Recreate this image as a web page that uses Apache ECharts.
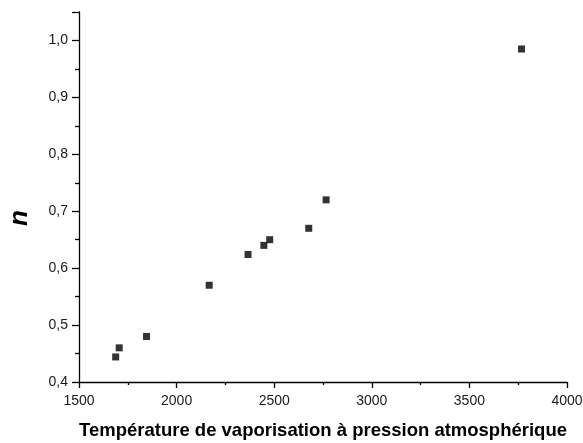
<!DOCTYPE html>
<html>
<head>
<meta charset="utf-8">
<script src="https://cdn.jsdelivr.net/npm/echarts@6/dist/echarts.min.js"></script>
<style>html,body{margin:0;padding:0;background:#fff}#c{width:583px;height:443px}</style>
</head>
<body>
<div id="c"></div>
<script>
const temperatures = [1688, 1706, 1846, 2167, 2366, 2447, 2477, 2677, 2766, 3767];
const nValues = [0.444, 0.460, 0.480, 0.570, 0.624, 0.640, 0.650, 0.670, 0.720, 0.985];
const xTitle = 'Température de vaporisation à pression atmosphérique';
const yTitle = 'n';

const points = temperatures.map((t, i) => [t, nValues[i]]);
const font = "'Liberation Sans', Arial, sans-serif";
const chart = echarts.init(document.getElementById('c'), null, {renderer: 'canvas'});
chart.setOption({
  animation: false,
  backgroundColor: '#fff',
  grid: {left: 79, right: 16, top: 12, bottom: 61, containLabel: false, outerBoundsMode: 'none'},
  xAxis: {
    type: 'value', min: 1500, max: 4000, interval: 500,
    name: xTitle, nameLocation: 'middle', nameGap: 39,
    nameTextStyle: {fontFamily: font, fontWeight: 'bold', fontSize: 18.5, color: '#000'},
    axisLine: {show: true, onZero: false, lineStyle: {color: '#000', width: 1.3}},
    axisTick: {show: true, inside: false, length: 6, lineStyle: {color: '#000', width: 1.3}},
    minorTick: {show: true, splitNumber: 2, length: 3, lineStyle: {color: '#000', width: 1.3}},
    splitLine: {show: false},
    axisLabel: {fontFamily: font, fontSize: 14, color: '#1a1a1a', margin: 12,
      formatter: v => String(v)}
  },
  yAxis: {
    type: 'value', min: 0.4, max: 1.05, interval: 0.1,
    name: yTitle, nameLocation: 'middle', nameGap: 46,
    nameTextStyle: {fontFamily: font, fontWeight: 'bold', fontStyle: 'italic', fontSize: 26, color: '#000', padding: [0, 42, 0, 0]},
    axisLine: {show: true, onZero: false, lineStyle: {color: '#000', width: 1.3}},
    axisTick: {show: true, inside: false, length: 7, lineStyle: {color: '#000', width: 1.3}},
    minorTick: {show: true, splitNumber: 2, length: 4, lineStyle: {color: '#000', width: 1.3}},
    splitLine: {show: false},
    axisLabel: {fontFamily: font, fontSize: 14, color: '#1a1a1a', margin: 11, showMaxLabel: false,
      formatter: v => v.toFixed(1).replace('.', ',')}
  },
  series: [{
    type: 'scatter', data: points, symbol: 'rect', symbolSize: 7,
    itemStyle: {color: '#000'}
  }]
});
</script>
</body>
</html>
